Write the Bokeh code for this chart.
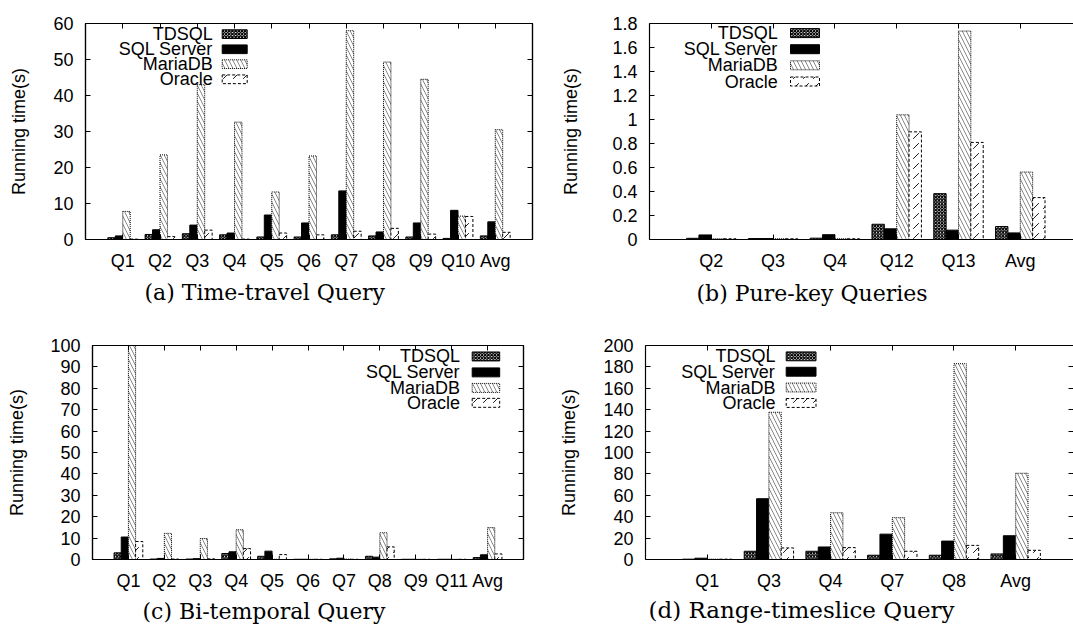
from bokeh.plotting import figure
from bokeh.models import (ColumnDataSource, FixedTicker, LinearAxis, Range1d, Title,
                          BoxAnnotation, CustomJSTickFormatter)
from bokeh.layouts import column, row
from bokeh.core.properties import value
from bokeh.embed import file_html
from bokeh.resources import INLINE

SERIES = ["TDSQL", "SQL Server", "MariaDB", "Oracle"]

# (a) Time-travel Query
A_CATS = ["Q1", "Q2", "Q3", "Q4", "Q5", "Q6", "Q7", "Q8", "Q9", "Q10", "Avg"]
A_TDSQL = [0.5, 1.4, 1.6, 1.3, 0.7, 0.7, 1.3, 1.0, 0.7, 0.3, 1.0]
A_SQLSERVER = [1.0, 2.7, 4.0, 1.8, 6.8, 4.6, 13.5, 2.1, 4.6, 8.1, 4.9]
A_MARIADB = [7.8, 23.5, 43.0, 32.6, 13.2, 23.2, 58.0, 49.3, 44.5, 6.5, 30.5]
A_ORACLE = [0.1, 0.8, 2.6, 0.1, 1.8, 1.3, 2.3, 3.1, 1.5, 6.4, 2.0]

# (b) Pure-key Queries
B_CATS = ["Q2", "Q3", "Q4", "Q12", "Q13", "Avg"]
B_TDSQL = [0.010, 0.008, 0.011, 0.127, 0.382, 0.108]
B_SQLSERVER = [0.038, 0.008, 0.040, 0.089, 0.078, 0.055]
B_MARIADB = [0.006, 0.006, 0.006, 1.039, 1.737, 0.562]
B_ORACLE = [0.006, 0.006, 0.006, 0.897, 0.809, 0.349]

# (c) Bi-temporal Query
C_CATS = ["Q1", "Q2", "Q3", "Q4", "Q5", "Q6", "Q7", "Q8", "Q9", "Q11", "Avg"]
C_TDSQL = [3.1, 0.2, 0.2, 2.8, 1.5, 0.1, 0.3, 1.5, 0.1, 0.1, 0.9]
C_SQLSERVER = [10.5, 0.5, 0.4, 3.6, 3.9, 0.1, 0.6, 1.1, 0.1, 0.1, 2.2]
C_MARIADB = [100.0, 12.2, 9.8, 13.9, 0.1, 0.1, 0.2, 12.5, 0.1, 0.1, 14.9]
C_ORACLE = [8.4, 0.2, 0.3, 5.1, 2.3, 0.1, 0.1, 5.9, 0.1, 0.1, 2.6]

# (d) Range-timeslice Query
D_CATS = ["Q1", "Q3", "Q4", "Q7", "Q8", "Avg"]
D_TDSQL = [0.3, 7.7, 7.7, 4.0, 4.0, 5.2]
D_SQLSERVER = [1.2, 56.8, 11.7, 23.7, 17.2, 22.2]
D_MARIADB = [0.3, 137.6, 43.7, 39.1, 183.0, 80.6]
D_ORACLE = [0.3, 10.8, 11.1, 7.7, 13.2, 8.6]

Y_LABEL = "Running time(s)"
FONT = "Liberation Sans"
SERIF = "DejaVu Serif"

STYLES = {
    "TDSQL": dict(fill_color="white", hatch_pattern="diagonal_cross", hatch_color="black",
                  hatch_scale=3.2, hatch_weight=1.3, line_color="black", line_width=1),
    "SQL Server": dict(fill_color="black", line_color="black", line_width=1),
    "MariaDB": dict(fill_color="white", hatch_pattern="left_diagonal_line", hatch_color="#555555",
                    hatch_scale=8, hatch_weight=0.7, line_color="black", line_width=1,
                    line_dash="1 1"),
    "Oracle": dict(fill_color="white", hatch_pattern="right_diagonal_dash", hatch_color="black",
                   hatch_scale=10, hatch_weight=0.9, line_color="black", line_width=1,
                   line_dash="3 2"),
}
OFFSETS = [-0.3, -0.1, 0.1, 0.3]
BAR_W = 0.2


def make_panel(cats, vals, y_end, y_step, x_end, fig_x, fig_y, width, height, mb,
               ylab_standoff, caption, cap_size, cap_offset, cap_standoff, legend, boxed,
               right_ticks):
    n = len(cats)
    p = figure(width=width, height=height, x_range=Range1d(-1, x_end),
               y_range=Range1d(0, y_end), output_backend="svg", toolbar_location=None,
               tools="", min_border_left=mb[0], min_border_right=mb[1],
               min_border_top=mb[2], min_border_bottom=mb[3])
    p.background_fill_color = "white"
    p.border_fill_color = "white"
    p.grid.visible = False
    p.outline_line_color = "black" if boxed else None
    p.outline_line_width = 1.2

    xt = FixedTicker(ticks=list(range(n)))
    xfmt = CustomJSTickFormatter(args=dict(labels=cats), code="""
        const i = Math.round(tick);
        return (i >= 0 && i < labels.length) ? labels[i] : '';""")
    nt = int(round(y_end / y_step))
    yt = FixedTicker(ticks=[round(i * y_step, 6) for i in range(nt + 1)])
    yfmt = CustomJSTickFormatter(code="return String(Math.round(tick * 10) / 10);")
    blank = CustomJSTickFormatter(code="return '';")

    def style_axis(ax, labels=True):
        ax.axis_line_color = "black"
        ax.axis_line_width = 1.2
        ax.major_tick_in = 5
        ax.major_tick_out = 0
        ax.major_tick_line_color = "black"
        ax.minor_tick_line_color = None
        ax.major_label_text_font = FONT
        ax.major_label_text_color = "black"
        if labels:
            ax.major_label_text_font_size = "18px"
        else:
            ax.formatter = blank
            ax.major_label_text_font_size = "1px"
            ax.major_label_standoff = 0

    xa = p.xaxis[0]
    xa.ticker = xt
    xa.formatter = xfmt
    style_axis(xa)
    xa.major_label_standoff = 11

    ya = p.yaxis[0]
    ya.ticker = yt
    ya.formatter = yfmt
    style_axis(ya)
    ya.major_label_standoff = 12
    ya.axis_label = Y_LABEL
    ya.axis_label_text_font = FONT
    ya.axis_label_text_font_size = "18px"
    ya.axis_label_text_font_style = "normal"
    ya.axis_label_text_color = "black"
    ya.axis_label_standoff = ylab_standoff

    top = LinearAxis(ticker=xt)
    style_axis(top, labels=False)
    p.add_layout(top, "above")

    if right_ticks:
        ra = LinearAxis(ticker=yt)
        style_axis(ra, labels=False)
        if not boxed:
            ra.axis_line_color = None
        p.add_layout(ra, "right")

    # bars
    for s, off in zip(SERIES, OFFSETS):
        src = ColumnDataSource(dict(x=[i + off for i in range(n)], top=vals[s]))
        p.vbar(x="x", top="top", bottom=0, width=BAR_W, source=src, **STYLES[s])

    # page-pixel -> data mapping for the legend placement
    fl = fig_x + mb[0]
    fw = width - mb[0] - mb[1]
    ft = fig_y + mb[2]
    fh = height - mb[2] - mb[3]

    def dx(px):
        return -1 + (px - fl) / fw * (x_end + 1)

    def dy(py):
        return (ft + fh - py) / fh * y_end

    # legend (gnuplot style: text right-aligned, sample box on the right)
    text_right, box_l, box_r, rows = legend
    p.text(x=[dx(text_right)] * 4, y=[dy(r) for r in rows], text=SERIES,
           text_align="right", text_baseline="middle", text_font=value(FONT),
           text_font_size="18px", text_color="black")
    for s, r in zip(SERIES, rows):
        st = dict(STYLES[s])
        box = BoxAnnotation(left=dx(box_l), right=dx(box_r), bottom=dy(r + 4.5),
                            top=dy(r - 4.5), fill_alpha=1.0, line_alpha=1.0, **st)
        p.add_layout(box)

    # sub-figure caption
    t = Title(text=caption, align="left", offset=cap_offset, text_font=SERIF,
              text_font_size=cap_size, text_font_style="normal", text_color="black",
              vertical_align="middle", standoff=cap_standoff)
    p.add_layout(t, "below")
    return p


pa = make_panel(A_CATS, dict(zip(SERIES, [A_TDSQL, A_SQLSERVER, A_MARIADB, A_ORACLE])),
                60, 10, 11, 0, 0, 540, 324, (85, 8, 19, 82), 21,
                "(a) Time-travel Query", "22px", 59, 10,
                (212.3, 221.7, 246.7, [30.0, 45.6, 61.0, 76.6]), True, True)

pb = make_panel(B_CATS, dict(zip(SERIES, [B_TDSQL, B_SQLSERVER, B_MARIADB, B_ORACLE])),
                1.8, 0.2, 5.861, 540, 0, 533, 324, (109, 0, 23, 85), 28,
                "(b) Pure-key Queries", "22px", 47, 12,
                (777.3, 790, 819, [32.6, 48.7, 64.8, 81.0]), False, False)

pc = make_panel(C_CATS, dict(zip(SERIES, [C_TDSQL, C_SQLSERVER, C_MARIADB, C_ORACLE])),
                100, 10, 11, 0, 324, 540, 305, (92, 17, 20, 70), 20,
                "(c) Bi-temporal Query", "22px", 50, 9,
                (459.6, 471.7, 499.2, [355.0, 371.0, 386.6, 401.6]), True, True)

pd_ = make_panel(D_CATS, dict(zip(SERIES, [D_TDSQL, D_SQLSERVER, D_MARIADB, D_ORACLE])),
                 200, 20, 5.937, 540, 324, 533, 305, (105, 0, 21, 67), 21,
                 "(d) Range-timeslice Query", "23px", 3, 5,
                 (774.9, 785.7, 815.5, [356.0, 371.6, 387.6, 403.3]), False, True)

layout = column(row(pa, pb), row(pc, pd_))

open("out.html", "w").write(file_html(layout, INLINE))
